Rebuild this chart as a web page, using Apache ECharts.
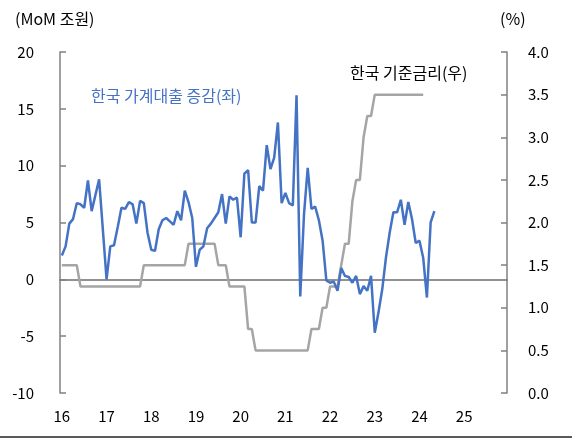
<!DOCTYPE html>
<html>
<head>
<meta charset="utf-8">
<script src="https://cdn.jsdelivr.net/npm/echarts@6/dist/echarts.min.js"></script>
<style>
  html, body { margin: 0; padding: 0; background: #fff; }
  #chart { width: 572px; height: 444px; }
</style>
</head>
<body>
<div id="chart"></div>
<script>
// monthly categories Jan 2016 .. Dec 2025
var months = [];
for (var y = 16; y <= 25; y++) {
  for (var mo = 1; mo <= 12; mo++) {
    months.push(y + '.' + (mo < 10 ? '0' + mo : mo));
  }
}

// 한국 가계대출 증감 (MoM, 조원), Jan 2016 .. May 2024
var loanChange = [
  2.1, 2.9, 4.9, 5.3, 6.7, 6.6, 6.3, 8.7, 6.0, 7.4, 8.8, 4.4,
  0.0, 2.9, 3.0, 4.6, 6.3, 6.2, 6.8, 6.6, 4.9, 6.9, 6.7, 4.1,
  2.6, 2.5, 4.4, 5.2, 5.4, 5.1, 4.8, 6.0, 5.2, 7.8, 6.8, 5.4,
  1.1, 2.6, 2.9, 4.5, 4.9, 5.4, 5.9, 7.5, 4.9, 7.3, 7.0, 7.2,
  3.7, 9.3, 9.6, 5.0, 5.0, 8.2, 7.8, 11.8, 9.7, 10.7, 13.8, 6.7,
  7.6, 6.7, 6.5, 16.2, -1.5, 5.7, 9.8, 6.2, 6.4, 5.2, 3.4, -0.1,
  -0.3, -0.2, -1.0, 1.0, 0.3, 0.2, -0.3, 0.3, -1.3, -0.6, -1.0, 0.3,
  -4.7, -2.9, -0.9, 1.9, 4.1, 5.9, 5.9, 7.0, 4.8, 6.8, 5.3, 3.2,
  3.4, 1.9, -1.6, 5.0, 6.0
];

// 한국 기준금리 (%), month-end, Jan 2016 .. Feb 2024
var baseRate = [
  1.5, 1.5, 1.5, 1.5, 1.5, 1.25, 1.25, 1.25, 1.25, 1.25, 1.25, 1.25,
  1.25, 1.25, 1.25, 1.25, 1.25, 1.25, 1.25, 1.25, 1.25, 1.25, 1.5, 1.5,
  1.5, 1.5, 1.5, 1.5, 1.5, 1.5, 1.5, 1.5, 1.5, 1.5, 1.75, 1.75,
  1.75, 1.75, 1.75, 1.75, 1.75, 1.75, 1.5, 1.5, 1.5, 1.25, 1.25, 1.25,
  1.25, 1.25, 0.75, 0.75, 0.5, 0.5, 0.5, 0.5, 0.5, 0.5, 0.5, 0.5,
  0.5, 0.5, 0.5, 0.5, 0.5, 0.5, 0.5, 0.75, 0.75, 0.75, 1.0, 1.0,
  1.25, 1.25, 1.25, 1.5, 1.75, 1.75, 2.25, 2.5, 2.5, 3.0, 3.25, 3.25,
  3.5, 3.5, 3.5, 3.5, 3.5, 3.5, 3.5, 3.5, 3.5, 3.5, 3.5, 3.5,
  3.5, 3.5
];

var leftTicks = { min: -10, max: 20, interval: 5 };
var rightTicks = { min: 0, max: 4, interval: 0.5 };

var FONT = '"Noto Sans CJK KR", "Noto Sans", sans-serif';
var axisGray = '#808080';

function label(text, x, y, color) {
  return {
    type: 'text', x: x, y: y,
    style: { text: text, font: '16px ' + FONT, fill: color, verticalAlign: 'middle' }
  };
}

var chart = echarts.init(document.getElementById('chart'));
chart.setOption({
  animation: false,
  backgroundColor: '#fff',
  textStyle: { fontFamily: FONT },
  grid: { left: 60, right: 65, top: 52, bottom: 51, containLabel: false },
  xAxis: [
    {
      type: 'category',
      data: months,
      boundaryGap: true,
      axisLine: { onZero: true, lineStyle: { color: '#6e6e6e', width: 1.5 } },
      axisTick: {
        inside: true, length: 5,
        interval: function (i) { return i % 12 === 0; },
        lineStyle: { color: '#333', width: 1.2 }
      },
      axisLabel: { show: false },
      splitLine: { show: false }
    },
    {
      type: 'category',
      data: months,
      boundaryGap: true,
      position: 'bottom',
      axisLine: { show: false, onZero: false },
      axisTick: { show: false },
      axisLabel: {
        interval: function (i) { return i % 12 === 0; },
        formatter: function (v) { return v.split('.')[0]; },
        color: '#000', fontSize: 15, fontFamily: FONT, margin: 16
      },
      splitLine: { show: false }
    }
  ],
  yAxis: [
    {
      type: 'value',
      min: leftTicks.min, max: leftTicks.max, interval: leftTicks.interval,
      axisLine: { show: true, lineStyle: { color: axisGray, width: 1.5 } },
      axisTick: { show: true, inside: true, length: 6, lineStyle: { color: axisGray, width: 1.5 } },
      axisLabel: { color: '#000', fontSize: 15, fontFamily: FONT, margin: 26 },
      splitLine: { show: false }
    },
    {
      type: 'value',
      min: rightTicks.min, max: rightTicks.max, interval: rightTicks.interval,
      position: 'right',
      axisLine: { show: true, lineStyle: { color: axisGray, width: 1.5 } },
      axisTick: { show: true, inside: true, length: 6, lineStyle: { color: axisGray, width: 1.5 } },
      axisLabel: {
        color: '#000', fontSize: 15, fontFamily: FONT, margin: 21,
        formatter: function (v) { return v.toFixed(1); }
      },
      splitLine: { show: false }
    }
  ],
  series: [
    {
      name: '한국 기준금리(우)',
      type: 'line',
      yAxisIndex: 1,
      data: baseRate,
      showSymbol: false,
      lineStyle: { color: '#a5a5a5', width: 2.5 },
      z: 2
    },
    {
      name: '한국 가계대출 증감(좌)',
      type: 'line',
      data: loanChange,
      showSymbol: false,
      lineStyle: { color: '#4472c4', width: 2.5 },
      z: 3
    }
  ],
  graphic: [
    label('(MoM 조원)', 15, 19, '#000'),
    label('(%)', 500, 19, '#000'),
    label('한국 가계대출 증감(좌)', 91, 96, '#4472c4'),
    label('한국 기준금리(우)', 350, 73, '#000'),
    { type: 'rect', x: 0, y: 436, shape: { width: 572, height: 2 }, style: { fill: '#595959' } }
  ]
});
</script>
</body>
</html>
